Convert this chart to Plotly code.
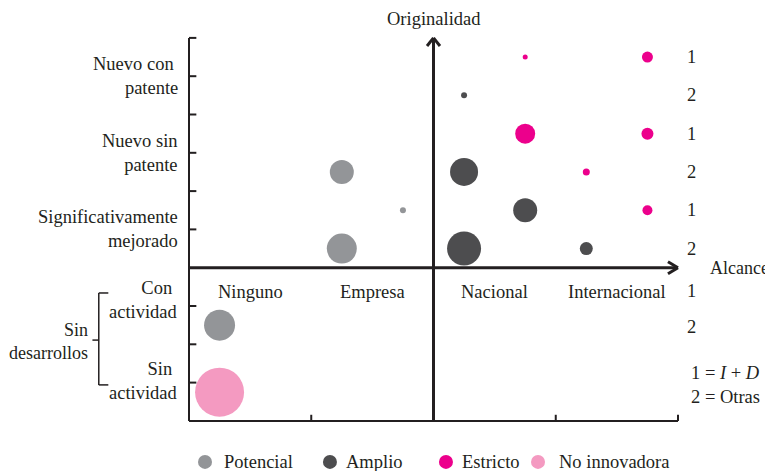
import plotly.graph_objects as go

# series names and colours
series = ['Potencial', 'Amplio', 'Estricto', 'No innovadora']
colors = ['#939598', '#4d4d4f', '#ec008c', '#f49ac1']

# bubble positions (alcance, originalidad) and sizes
potencial_x = [1.25, 1.75, 1.25, 0.25]
potencial_y = [2.5, 1.5, 0.5, -1.5]
potencial_size = [24, 6, 30, 31]

amplio_x = [2.25, 2.25, 2.75, 2.25, 3.25]
amplio_y = [4.5, 2.5, 1.5, 0.5, 0.5]
amplio_size = [6, 28, 24, 34, 13]

estricto_x = [2.75, 3.75, 2.75, 3.75, 3.25, 3.75]
estricto_y = [5.5, 5.5, 3.5, 3.5, 2.5, 1.5]
estricto_size = [5, 11, 20, 12, 7, 10]

no_innov_x = [0.25]
no_innov_y = [-3.25]
no_innov_size = [49]

alcance_labels = ['Ninguno', 'Empresa', 'Nacional', 'Internacional']
originalidad_labels = ['Nuevo con <br>patente', 'Nuevo sin<br>patente',
                       'Significativamente<br>mejorado']
sin_des_labels = ['Con <br>actividad', 'Sin <br>actividad']
row_labels = ['1', '2', '1', '2', '1', '2', '1', '2']
row_y = [5.5, 4.5, 3.5, 2.5, 1.5, 0.5, -0.6, -1.55]

FONT = 'Liberation Serif'
INK = '#231f20'
W, H = 765, 463
XU, YU = 122.25, 38.3          # pixels per unit
X0, Y0 = 181, 259.7            # pixel position of the origin inside the figure

fig = go.Figure()

data = [(potencial_x, potencial_y, potencial_size),
        (amplio_x, amplio_y, amplio_size),
        (estricto_x, estricto_y, estricto_size),
        (no_innov_x, no_innov_y, no_innov_size)]

for name, col, (xs, ys, ss) in zip(series, colors, data):
    fig.add_trace(go.Scatter(x=xs, y=ys, mode='markers', name=name,
                             marker=dict(size=ss, color=col, opacity=1, line_width=0),
                             showlegend=False))

txt = dict(family=FONT, size=18.5, color=INK)
small = dict(family=FONT, size=18, color=INK)
ann = []

# legend drawn below the plot
legend_x = [0.131, 1.153, 2.102, 2.855]
legend_tx = [0.27, 1.268, 2.217, 3.01]
for name, col, lx, tx in zip(series, colors, legend_x, legend_tx):
    fig.add_trace(go.Scatter(x=[lx], y=[-5.07], mode='markers',
                             marker=dict(size=14, color=col, opacity=1), showlegend=False))
    ann.append(dict(x=tx, y=-5.07, text=name, showarrow=False, xanchor='left', font=txt))

shapes = []
ax = dict(color=INK, width=2)
arr = dict(color=INK, width=3)
# left and bottom frame with ticks
shapes.append(dict(type='line', x0=0, x1=0, y0=-4, y1=6, line=ax))
shapes.append(dict(type='line', x0=0, x1=4, y0=-4, y1=-4, line=ax))
for t in [-3, -2, -1, 1, 2, 3, 4, 5, 6]:
    shapes.append(dict(type='line', x0=0, x1=0.06, y0=t, y1=t, line=ax))
for t in [1, 2, 3, 4]:
    shapes.append(dict(type='line', x0=t, x1=t, y0=-4, y1=-3.84, line=ax))
# main arrows
shapes.append(dict(type='line', x0=2, x1=2, y0=-4, y1=5.97, line=arr))
shapes.append(dict(type='line', x0=0, x1=3.99, y0=0, y1=0, line=arr))
for dx in (-0.053, 0.053):
    shapes.append(dict(type='line', x0=2 + dx, x1=2, y0=5.79, y1=6.0, line=arr))
for dy in (-0.157, 0.157):
    shapes.append(dict(type='line', x0=3.918, x1=4.0, y0=dy, y1=0, line=arr))
# bracket for "Sin desarrollos"
bk = dict(color=INK, width=1.5)
shapes.append(dict(type='line', x0=-0.738, x1=-0.738, y0=-0.66, y1=-3.06, line=bk))
shapes.append(dict(type='line', x0=-0.738, x1=-0.66, y0=-0.66, y1=-0.66, line=bk))
shapes.append(dict(type='line', x0=-0.738, x1=-0.66, y0=-3.06, y1=-3.06, line=bk))
shapes.append(dict(type='line', x0=-0.79, x1=-0.738, y0=-1.89, y1=-1.89, line=bk))

ann.append(dict(x=2, y=6.5, text='Originalidad', showarrow=False, font=txt))
ann.append(dict(x=4.245, y=0, text='Alcance', showarrow=False, xanchor='left', font=small))
for i, lab in enumerate(alcance_labels):
    ann.append(dict(x=i + 0.5, y=-0.63, text=lab, showarrow=False, font=txt))
for lab, yy in zip(originalidad_labels, [5, 3, 1]):
    ann.append(dict(x=-0.074, y=yy, text=lab, showarrow=False, xanchor='right',
                    align='right', font=txt))
for lab, yy in zip(sin_des_labels, [-0.85, -2.95]):
    ann.append(dict(x=-0.074, y=yy, text=lab, showarrow=False, xanchor='right',
                    align='right', font=txt))
ann.append(dict(x=-0.81, y=-1.92, text='Sin<br>desarrollos', showarrow=False,
                xanchor='right', align='right', font=small))
for lab, yy in zip(row_labels, row_y):
    ann.append(dict(x=4.107, y=yy, text=lab, showarrow=False, font=txt))
ann.append(dict(x=4.09, y=-3.05, text='1 = <i>I</i> + <i>D</i><br>2 = Otras',
                showarrow=False, xanchor='left', align='left', font=txt))

fig.update_layout(
    width=W, height=H, autosize=False,
    margin=dict(l=0, r=0, t=0, b=0, pad=0),
    plot_bgcolor='white', paper_bgcolor='white',
    shapes=shapes, annotations=ann,
    xaxis=dict(range=[-X0 / XU, (W - X0) / XU], visible=False, fixedrange=True),
    yaxis=dict(range=[-(H - Y0) / YU, Y0 / YU], visible=False, fixedrange=True),
)

fig.write_html("out.html")
